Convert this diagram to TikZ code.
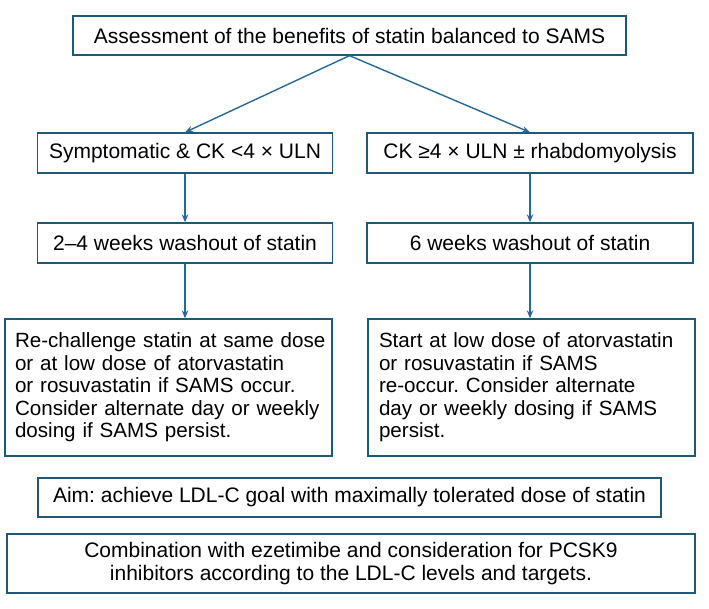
\documentclass[tikz,border=0pt]{standalone}
\usepackage{fontspec}
\setmainfont{Liberation Sans}
\usetikzlibrary{arrows.meta}
\definecolor{boxc}{RGB}{30,90,120}
\definecolor{arrc}{RGB}{35,105,155}
\frenchspacing
\begin{document}
\begin{tikzpicture}[x=1pt,y=-1pt,
  box/.style={draw=boxc, line width=1.3pt, fill=white, inner sep=0pt,
    font=\fontsize{21}{22.5}\selectfont, align=center},
  lbox/.style={box, align=left, inner ysep=0pt, font=\fontsize{20.6}{22.5}\selectfont},
  arr/.style={draw=arrc, line width=1.4pt, -{Stealth[length=8pt,width=6.5pt]}}]
\useasboundingbox (0,0) rectangle (709,609);
\node[box, minimum width=553, minimum height=39] (top) at (349.5,35.5) {Assessment of the benefits of statin balanced to SAMS};
\node[box, minimum width=295, minimum height=40] (sl) at (185,153) {Symptomatic \& CK <4 × ULN};
\node[box, minimum width=326, minimum height=40] (sr) at (530,153) {CK ≥4 × ULN ± rhabdomyolysis};
\node[box, minimum width=295, minimum height=40] (wl) at (185,243) {2–4 weeks washout of statin};
\node[box, minimum width=326, minimum height=40] (wr) at (530,243) {6 weeks washout of statin};
\node[lbox, text width=307, inner xsep=10, minimum height=137] (rl) at (168.5,387.5)
  {\mbox{Re-challenge statin at same dose}\\ \mbox{or at low dose of atorvastatin}\\ \mbox{or rosuvastatin if SAMS occur.}\\ \mbox{Consider alternate day or weekly}\\ \mbox{dosing if SAMS persist.}};
\node[lbox, text width=305, inner xsep=11, minimum height=137] (rr) at (531.5,387.5)
  {\mbox{Start at low dose of atorvastatin}\\ \mbox{or rosuvastatin if SAMS}\\ \mbox{re-occur. Consider alternate}\\ \mbox{day or weekly dosing if SAMS}\\ \mbox{persist.}};
\node[box, minimum width=623, minimum height=39] (aim) at (349.5,497.5) {Aim: achieve LDL-C goal with maximally tolerated dose of statin};
\node[box, minimum width=688, minimum height=59] (comb) at (351,563.5) {Combination with ezetimibe and consideration for PCSK9\\ inhibitors according to the LDL-C levels and targets.};
\draw[arr] (top.south) -- (sl.north);
\draw[arr] (top.south) -- (sr.north);
\draw[arr] (sl.south) -- (sl.south |- wl.north);
\draw[arr] (sr.south) -- (sr.south |- wr.north);
\draw[arr] (wl.south) -- (wl.south |- rl.north);
\draw[arr] (wr.south) -- (wr.south |- rr.north);
\end{tikzpicture}
\end{document}
